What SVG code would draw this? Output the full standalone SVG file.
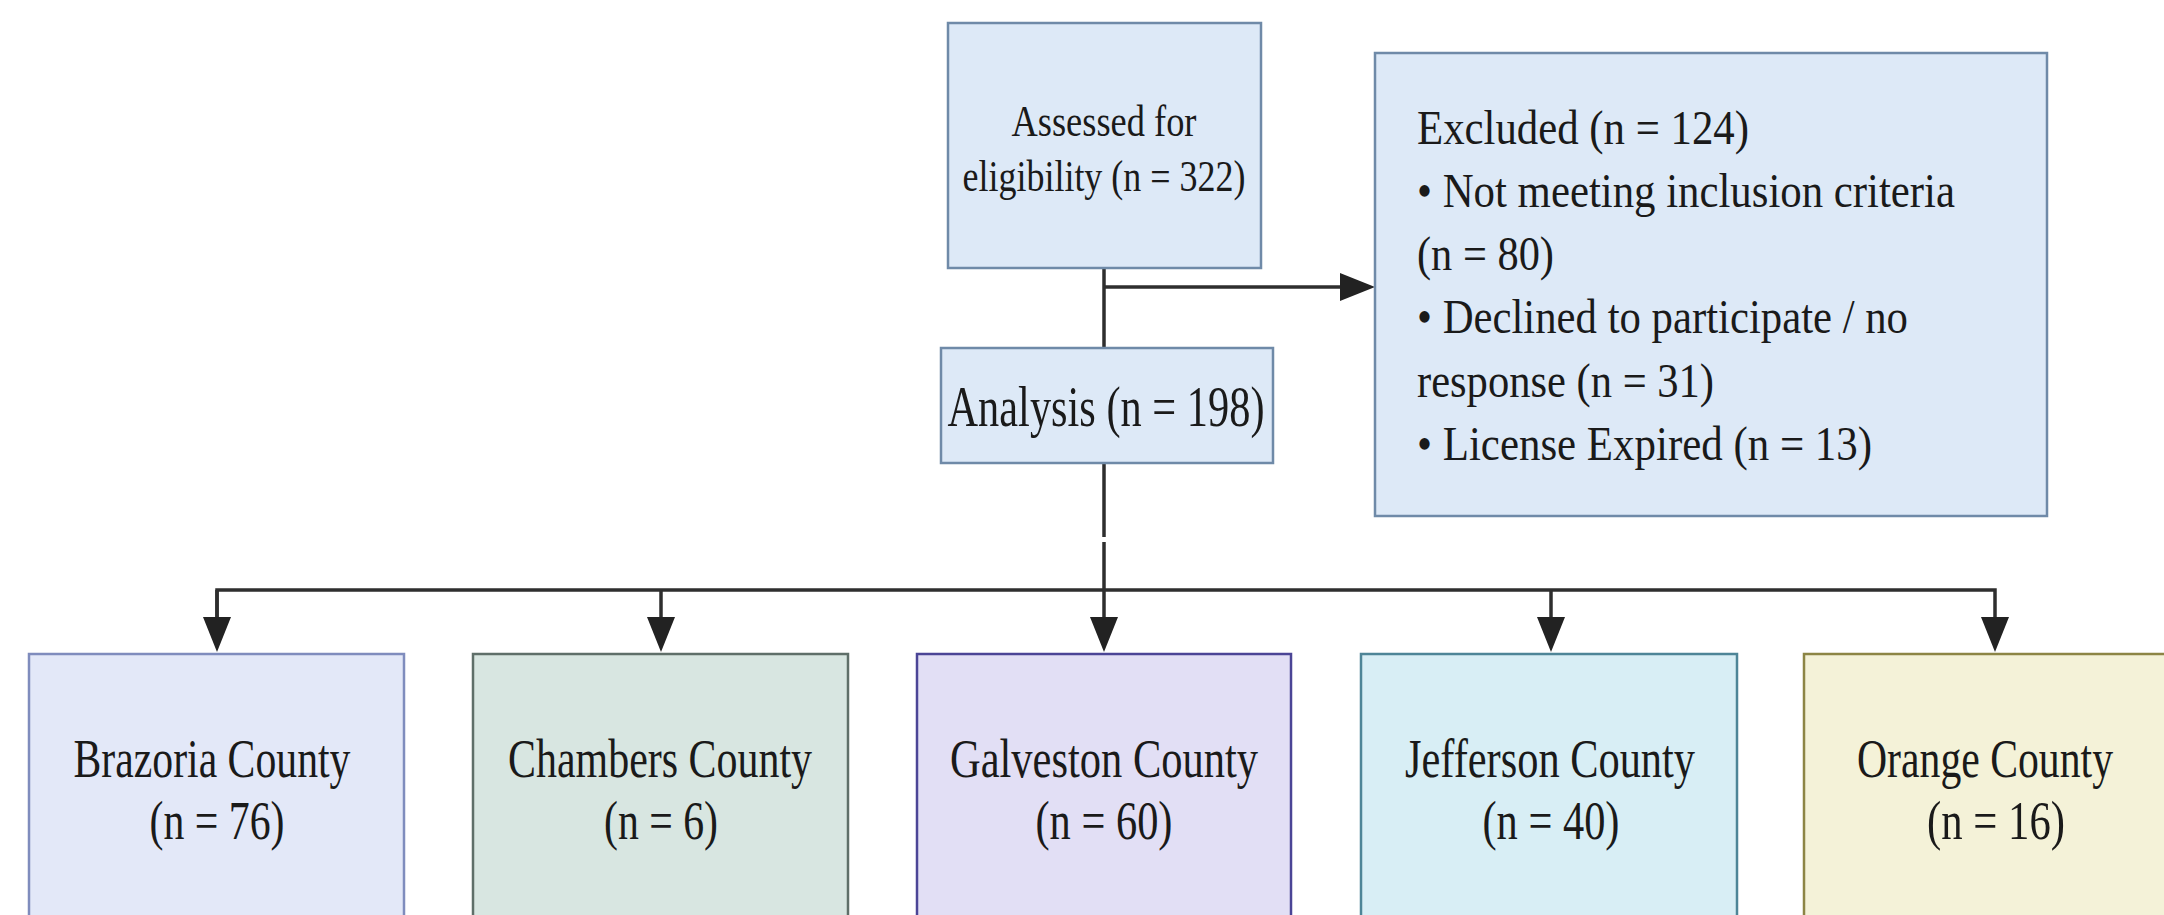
<svg xmlns="http://www.w3.org/2000/svg" width="2164" height="915" viewBox="0 0 2164 915">
<style>
text{font-family:"Liberation Serif","Times New Roman",serif;fill:#1a1a1a;}
.c{text-anchor:middle;}
.ln{fill:none;stroke:#2e2e2e;stroke-width:3.5;}
.blue{fill:#dde9f7;stroke:#6f8aa8;stroke-width:2.5;}
</style>
<defs>
<marker id="ah" markerUnits="userSpaceOnUse" viewBox="0 0 35 28" refX="25" refY="14" markerWidth="35" markerHeight="28" orient="auto">
<path d="M0,0 L35,14 L0,28 z" fill="#222"/>
</marker>
</defs>
<rect width="2164" height="915" fill="#ffffff"/>
<g id="connectors">
<path class="ln" d="M1104,268 V348"/>
<path class="ln" d="M1104,287 H1365" marker-end="url(#ah)"/>
<path class="ln" d="M1104,463 V537"/>
<path class="ln" d="M1104,542 V642" marker-end="url(#ah)"/>
<path class="ln" d="M217,642 V590 H1995 V642" marker-end="url(#ah)"/>
<path class="ln" d="M217,590 V642" marker-end="url(#ah)"/>
<path class="ln" d="M661,590 V642" marker-end="url(#ah)"/>
<path class="ln" d="M1551,590 V642" marker-end="url(#ah)"/>
</g>
<g id="assessed">
<rect class="blue" x="948" y="23" width="313" height="245"/>
<text class="c" x="1104" y="136" font-size="45" textLength="185" lengthAdjust="spacingAndGlyphs">Assessed for</text>
<text class="c" x="1104" y="191" font-size="45" textLength="283" lengthAdjust="spacingAndGlyphs">eligibility (n = 322)</text>
</g>
<g id="analysis">
<rect class="blue" x="941" y="348" width="332" height="115"/>
<text class="c" x="1106" y="426" font-size="57" textLength="317" lengthAdjust="spacingAndGlyphs">Analysis (n = 198)</text>
</g>
<g id="excluded">
<rect class="blue" x="1375" y="53" width="672" height="463"/>
<text x="1417" y="144" font-size="49" textLength="332" lengthAdjust="spacingAndGlyphs">Excluded (n = 124)</text>
<text x="1417" y="207" font-size="49" textLength="538" lengthAdjust="spacingAndGlyphs">• Not meeting inclusion criteria</text>
<text x="1417" y="270" font-size="49" textLength="137" lengthAdjust="spacingAndGlyphs">(n = 80)</text>
<text x="1417" y="333" font-size="49" textLength="491" lengthAdjust="spacingAndGlyphs">• Declined to participate / no</text>
<text x="1417" y="397" font-size="49" textLength="297" lengthAdjust="spacingAndGlyphs">response (n = 31)</text>
<text x="1417" y="460" font-size="49" textLength="455" lengthAdjust="spacingAndGlyphs">• License Expired (n = 13)</text>
</g>
<g id="brazoria">
<rect x="29" y="654" width="375" height="300" fill="#e3e8f8" stroke="#7f8cbd" stroke-width="2.5"/>
<text class="c" x="212" y="777" font-size="54" textLength="277" lengthAdjust="spacingAndGlyphs">Brazoria County</text>
<text class="c" x="217" y="839" font-size="54" textLength="135" lengthAdjust="spacingAndGlyphs">(n = 76)</text>
</g>
<g id="chambers">
<rect x="473" y="654" width="375" height="300" fill="#d8e6e1" stroke="#5f6f69" stroke-width="2.5"/>
<text class="c" x="660" y="777" font-size="54" textLength="304" lengthAdjust="spacingAndGlyphs">Chambers County</text>
<text class="c" x="661" y="839" font-size="54" textLength="114" lengthAdjust="spacingAndGlyphs">(n = 6)</text>
</g>
<g id="galveston">
<rect x="917" y="654" width="374" height="300" fill="#e2dff5" stroke="#4b4596" stroke-width="2.5"/>
<text class="c" x="1104" y="777" font-size="54" textLength="308" lengthAdjust="spacingAndGlyphs">Galveston County</text>
<text class="c" x="1104" y="839" font-size="54" textLength="137" lengthAdjust="spacingAndGlyphs">(n = 60)</text>
</g>
<g id="jefferson">
<rect x="1361" y="654" width="376" height="300" fill="#d8eef5" stroke="#4e8597" stroke-width="2.5"/>
<text class="c" x="1550" y="777" font-size="54" textLength="290" lengthAdjust="spacingAndGlyphs">Jefferson County</text>
<text class="c" x="1551" y="839" font-size="54" textLength="137" lengthAdjust="spacingAndGlyphs">(n = 40)</text>
</g>
<g id="orange">
<rect x="1804" y="654" width="360" height="261" fill="#f4f2d8"/>
<path d="M2164,654 H1804 V915" fill="none" stroke="#8c8545" stroke-width="2.5"/>
<text class="c" x="1985" y="777" font-size="54" textLength="256" lengthAdjust="spacingAndGlyphs">Orange County</text>
<text class="c" x="1996" y="839" font-size="54" textLength="138" lengthAdjust="spacingAndGlyphs">(n = 16)</text>
</g>
</svg>
